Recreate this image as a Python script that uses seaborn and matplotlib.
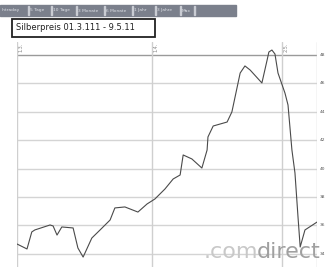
import pandas as pd
import matplotlib.pyplot as plt
import seaborn as sns
from matplotlib.patches import Rectangle

# Silver price, days after 1 March 2011
days = [0.0, 2.3, 3.4, 4.1, 7.6, 8.3, 9.2, 10.3, 12.9, 14.0, 15.2, 17.2, 19.1,
        21.4, 22.5, 24.8, 27.8, 29.9, 31.7, 34.0, 35.9, 37.5, 38.2, 40.2, 42.5,
        43.7, 43.9, 45.1, 48.3, 49.4, 51.3, 52.4, 53.6, 56.3, 57.5, 57.9, 58.6,
        59.3, 60.0, 61.6, 62.3, 63.2, 63.9, 64.6, 65.1, 66.2, 69.0]
price = [34.69, 34.34, 35.54, 35.68, 36.03, 35.96, 35.32, 35.89, 35.82, 34.41,
         33.77, 35.11, 35.68, 36.38, 37.23, 37.30, 36.94, 37.51, 37.86, 38.56,
         39.27, 39.55, 40.96, 40.68, 40.04, 41.31, 42.23, 43.00, 43.28, 43.99,
         46.73, 47.23, 46.94, 46.03, 47.65, 48.21, 48.35, 48.07, 46.73, 45.32,
         44.48, 41.31, 39.69, 36.59, 34.48, 35.68, 36.24]

month_days = [0, 31, 61]
month_labels = ["1.3.", "1.4.", "2.5."]
y_ticks = [34, 36, 38, 40, 42, 44, 46, 48]
tabs = ["Intraday", "5 Tage", "10 Tage", "3 Monate", "6 Monate", "1 Jahr", "3 Jahre", "Max"]

df = pd.DataFrame({"day": days, "price": price})

sns.set_style("white")
W, H = 326, 267
fig = plt.figure(figsize=(W / 100, H / 100), dpi=100)

# plot area: x 17..317 px, y 42..267 px
ax = fig.add_axes([17 / W, 0, 300 / W, 225 / H])
for s in ax.spines.values():
    s.set_visible(False)
ax.set_xlim(0, 300 / 4.35)
ax.set_ylim(48 - 212 / 14.2, 48 + 13 / 14.2)
ax.set_xticks([])
ax.set_yticks([])
ax.set_xlabel("")
ax.set_ylabel("")

for yv in y_ticks:
    ax.axhline(yv, color="#9a9a9a" if yv == 48 else "#d4d4d4", lw=1.0, zorder=0)
    fig.text(319.5 / W, 267 / H - (55 + (48 - yv) * 14.2) / H, str(yv),
             fontsize=3.2, color="#555555", va="center", ha="left")
for d, lab in zip(month_days, month_labels):
    ax.axvline(d, color="#cfcfcf", lw=1.0, zorder=0)
    ax.text(d + 0.3, 48.85, lab, fontsize=3.5, color="#8a8a8a", rotation=90,
            va="top", ha="left")
ax.axvline(300 / 4.35, color="#cfcfcf", lw=1.0, zorder=0)

sns.lineplot(data=df, x="day", y="price", color="#4a4a4a", lw=0.8, ax=ax)

# watermark ".comdirect"
t2 = fig.text(321 / W, 5 / H, "direct", fontsize=16, color="#a0a0a0",
              ha="right", va="bottom")
fig.canvas.draw()
x0 = t2.get_window_extent().x0
fig.text((x0 + 0.5) / W, 5 / H, ".com", fontsize=16, color="#c8c8c8",
         ha="right", va="bottom")

# tab bar
fig.patches.append(Rectangle((0, 1 - 16 / H), 236 / W, 11 / H,
                             transform=fig.transFigure, color="#7b808c"))
x = 0
for t in tabs:
    w = len(t) * 2.9 + 5
    fig.text((x + 2) / W, 1 - 10.5 / H, t, fontsize=3.2, color="#dde0e6",
             va="center", ha="left")
    fig.patches.append(Rectangle(((x + w) / W, 1 - 15 / H), 1 / W, 9 / H,
                                 transform=fig.transFigure, color="#c9ccd3"))
    x += w

# title box
fig.patches.append(Rectangle((12 / W, 1 - 37 / H), 143 / W, 18 / H,
                             transform=fig.transFigure, fill=False,
                             edgecolor="#222222", lw=1.3))
fig.text(16 / W, 1 - 28 / H, "Silberpreis 01.3.111 - 9.5.11", fontsize=6,
         color="#222222", va="center", ha="left")

plt.savefig("out.png", dpi=100)
